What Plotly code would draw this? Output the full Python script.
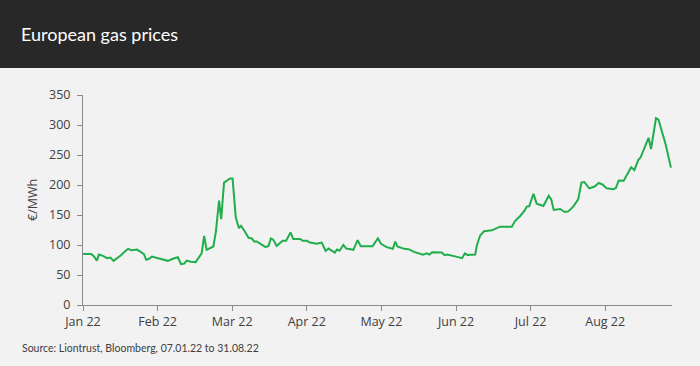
import plotly.graph_objects as go

# ---- data ----
month_labels = ["Jan 22", "Feb 22", "Mar 22", "Apr 22", "May 22", "Jun 22", "Jul 22", "Aug 22"]
trading_days_per_month = 21  # tick spacing in trading days
month_ticks = [i * trading_days_per_month for i in range(len(month_labels))]

trading_day = [
    0, 2.3, 3.1, 3.9, 4.5, 5.6, 6.8, 7.7, 8.6, 9.7, 10.6, 11.7, 12.7, 13.6, 14.6, 15.2,
    16.1, 17.1, 17.8, 18.6, 19.4, 20.6, 22.0, 23.9, 25.3, 26.7, 27.6, 28.5, 29.2, 30.3,
    31.7, 32.7, 33.4, 34.1, 34.8, 36.7, 37.4, 38.3, 38.9, 39.7, 41.4, 42.1, 43.0, 43.9,
    44.5, 45.6, 46.6, 47.5, 48.2, 48.9, 51.4, 52.2, 52.9, 53.6, 54.5, 56.2, 57.2, 58.4,
    59.2, 61.1, 61.9, 63.0, 63.9, 65.8, 67.2, 68.3, 69.1, 70.9, 71.5, 72.2, 73.3, 74.1,
    76.1, 77.3, 78.2, 81.5, 83.0, 83.9, 85.5, 86.4, 87.2, 87.9, 88.5, 90.4, 91.6, 93.2,
    95.7, 96.8, 97.5, 98.3, 101.0, 101.8, 102.5, 104.7, 106.7, 107.5, 108.2, 110.4,
    110.9, 111.8, 112.9, 115.1, 117.4, 120.7, 121.6, 123.0, 124.4, 124.9, 125.6, 126.8,
    127.7, 129.6, 131.1, 131.8, 132.5, 134.3, 135.6, 136.6, 138.0, 139.4, 140.3, 141.1,
    142.5, 144.0, 145.2, 146.3, 147.4, 149.3, 150.0, 150.8, 152.2, 154.3, 155.2, 156.3,
    157.0, 159.2, 159.9, 161.3, 162.0, 164.0, 165.5,
]
price = [
    85, 85, 81, 74, 84, 82, 78, 79, 73.6, 78, 82.5, 88.6, 93.6, 91.4, 91.4, 92.4,
    89, 85.3, 75.3, 77, 80.8, 79, 77.5, 73.6, 77, 79.5, 68, 69, 74, 72,
    71.5, 81, 86, 115, 92, 97.5, 122, 174, 143, 204, 211, 211, 146, 128,
    132, 122, 112, 111, 106, 106, 96.4, 98.5, 111, 108.5, 98.5, 107, 107, 121,
    110, 110, 107, 107, 104, 102, 104, 90, 94, 87.4, 92.5, 90.5, 100, 94,
    92, 108, 98, 98, 111, 102, 96.4, 95, 93.6, 105.7, 97.5, 93.6, 93, 88.5,
    84, 86, 84, 88, 87.4, 83, 84, 81, 78, 86, 83.5, 84,
    100, 116, 123, 124.5, 130.6, 130.6, 140, 148, 158, 164, 164.5, 185.5,
    169, 165, 182, 176, 158.4, 160, 155, 156, 164, 176, 204, 205,
    194.4, 197.5, 203.3, 200.5, 194.4, 192.8, 195, 207.5, 207, 229.5, 225, 241.5,
    246.5, 278.7, 260, 311.5, 309, 268, 229,
]

title_text = "European gas prices"
y_title = "€/MWh"
source_text = "Source: Liontrust, Bloomberg, 07.01.22 to 31.08.22"

# ---- figure ----
BG = "#f2f2f2"
AXIS = "#8c8c8c"
TXT = "#404040"
FONT = "Open Sans"
NARROW = "Lato"

fig = go.Figure(
    go.Scatter(
        x=trading_day,
        y=price,
        mode="lines",
        line=dict(color="#1fae4b", width=2),
        hoverinfo="x+y",
    )
)

fig.update_layout(
    width=700,
    height=366,
    margin=dict(l=83, r=28, t=95, b=61),
    paper_bgcolor=BG,
    plot_bgcolor=BG,
    showlegend=False,
    font=dict(family=FONT, color=TXT, size=12),
    xaxis=dict(
        range=[0, 165.8],
        tickmode="array",
        tickvals=month_ticks,
        ticktext=month_labels,
        ticks="outside",
        ticklen=5,
        tickcolor=AXIS,
        showline=True,
        linecolor=AXIS,
        linewidth=1,
        showgrid=False,
        zeroline=False,
        tickfont=dict(family=FONT, size=12.5, color=TXT),
    ),
    yaxis=dict(
        range=[0, 350],
        dtick=50,
        tick0=0,
        ticks="outside",
        ticklen=5,
        tickcolor=AXIS,
        showline=True,
        linecolor=AXIS,
        linewidth=1,
        showgrid=False,
        zeroline=False,
        tickfont=dict(family=FONT, size=12.5, color=TXT),
        ticklabelstandoff=4,
    ),
    shapes=[
        dict(type="rect", xref="paper", yref="paper",
             x0=-0.2, x1=1.1, y0=(305 - 68) / 210, y1=1.6,
             fillcolor="#282828", line=dict(width=0), layer="above"),
    ],
    annotations=[
        dict(text=title_text, xref="paper", yref="paper",
             x=(19 - 83) / 589, y=(305 - 34) / 210, xanchor="left", yanchor="middle",
             showarrow=False, font=dict(family=NARROW, size=18, color="#ffffff")),
        dict(text=y_title, xref="paper", yref="paper",
             x=(32 - 83) / 589, y=0.5, xanchor="center", yanchor="middle",
             textangle=-90, showarrow=False, font=dict(family=FONT, size=12.5, color=TXT)),
        dict(text=source_text, xref="paper", yref="paper",
             x=(20 - 83) / 589, y=(305 - 348) / 210, xanchor="left", yanchor="middle",
             showarrow=False, font=dict(family=NARROW, size=10.5, color=TXT)),
    ],
)

fig.write_html(
    "out.html",
    config={"displayModeBar": False},
    post_script="document.body.style.margin='0';document.body.style.background='#f2f2f2';",
)
